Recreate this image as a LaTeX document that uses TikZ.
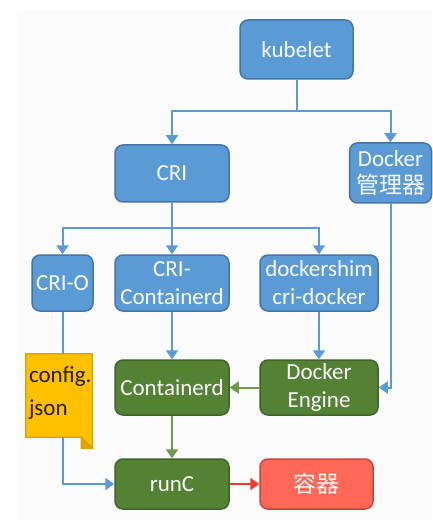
\documentclass[tikz,border=0pt]{standalone}
\usepackage{fontspec}
\setmainfont{Carlito}
\newfontfamily\cjk{Noto Sans CJK SC}
\usetikzlibrary{arrows.meta}
\definecolor{bfill}{HTML}{5B9BD5}
\definecolor{bdraw}{HTML}{4475A8}
\definecolor{gfill}{HTML}{548235}
\definecolor{gdraw}{HTML}{3F6328}
\definecolor{rfill}{HTML}{FF6757}
\definecolor{rdraw}{HTML}{C9453A}
\definecolor{yfill}{HTML}{FFC000}
\definecolor{ydraw}{HTML}{D9A300}
\definecolor{yfold}{HTML}{E0A800}
\definecolor{barrow}{HTML}{5B9BD5}
\definecolor{garrow}{HTML}{6A9A4A}
\definecolor{rarrow}{HTML}{F03A2E}
\definecolor{bg}{HTML}{FBFBFB}
\definecolor{txt}{HTML}{FAFAFA}
\tikzset{
  boxbase/.style={rounded corners=8pt, line width=1.5pt, inner sep=0pt, align=center,
    font=\fontsize{23}{28}\selectfont, text=txt},
  bluebox/.style={boxbase, fill=bfill, draw=bdraw},
  greenbox/.style={boxbase, fill=gfill, draw=gdraw},
  redbox/.style={boxbase, fill=rfill, draw=rdraw},
  conn/.style={line width=2pt, draw=barrow},
  arr/.style={conn, -{Triangle[width=12pt,length=9pt]}},
  garr/.style={line width=2pt, draw=garrow, -{Triangle[width=12pt,length=9pt]}},
  rarr/.style={line width=2pt, draw=rarrow, -{Triangle[width=12pt,length=9pt]}},
}
\begin{document}
\begin{tikzpicture}[x=1pt,y=-1pt]
\useasboundingbox (0,0) rectangle (432,526);
\fill[bg] (17,10) rectangle (432,520);

\node[bluebox, minimum width=113pt, minimum height=59pt] (kubelet) at (296.5,49.5) {kubelet};
\node[bluebox, minimum width=114pt, minimum height=57pt] (cri) at (172,173.5) {CRI};
\node[bluebox, minimum width=82pt, minimum height=60pt] (dmgr) at (390.5,173) {Docker\\[-1pt]{\cjk 管理器}};
\node[bluebox, minimum width=61pt, minimum height=56pt] (crio) at (62.5,283) {CRI-O};
\node[bluebox, minimum width=114pt, minimum height=56pt] (cricd) at (172,283) {CRI-\\Containerd};
\node[bluebox, minimum width=118pt, minimum height=56pt] (dshim) at (319,283) {dockershim\\cri-docker};
\node[greenbox, minimum width=114pt, minimum height=55pt] (ctrd) at (172,387.5) {Containerd};
\node[greenbox, minimum width=118pt, minimum height=55pt] (deng) at (319,387.5) {Docker\\Engine};
\node[greenbox, minimum width=114pt, minimum height=50pt] (runc) at (172,484) {runC};
\node[redbox, minimum width=113pt, minimum height=50pt] (ctr) at (316.5,484) {\cjk 容器};

% config.json document
\node[minimum width=66pt, minimum height=83pt, inner sep=0pt] (cfg) at (59,395.5) {};
\draw[fill=yfill, draw=ydraw, line width=1.2pt]
  (cfg.north west) -- (cfg.north east) -- ([yshift=-11pt]cfg.south east)
  -- ([xshift=-11pt]cfg.south east) -- (cfg.south west) -- cycle;
\draw[fill=yfold, draw=ydraw, line width=1.2pt]
  ([yshift=-11pt]cfg.south east) -- ([xshift=-11pt,yshift=-11pt]cfg.south east)
  -- ([xshift=-11pt]cfg.south east) -- cycle;
\node[anchor=west, align=left, inner sep=0pt, font=\fontsize{23}{33}\selectfont, text=black!85!yfill]
  (cfgtext) at ([xshift=3pt,yshift=2pt]cfg.west) {config.\\json};

% connectors
\coordinate (j1) at (296.5,111);
\draw[conn] (kubelet.south) -- (j1);
\draw[arr] (j1) -| (cri.north);
\draw[arr] (j1) -| (dmgr.north);

\coordinate (j2) at (172,228);
\draw[conn] (cri.south) -- (j2);
\draw[arr] (j2) -| (crio.north);
\draw[arr] (j2) -- (cricd.north);
\draw[arr] (j2) -| (dshim.north);

\draw[arr] (dmgr.south) |- (deng.east);
\draw[arr] (cricd.south) -- (ctrd.north);
\draw[arr] (dshim.south) -- (deng.north);

\draw[conn] (crio.south) -- (crio.south |- cfg.north);
\draw[arr] (crio.south |- cfg.south) |- (runc.west);

\draw[garr] (deng.west) -- (ctrd.east);
\draw[garr] (ctrd.south) -- (runc.north);
\draw[rarr] (runc.east) -- (ctr.west);
\end{tikzpicture}
\end{document}
